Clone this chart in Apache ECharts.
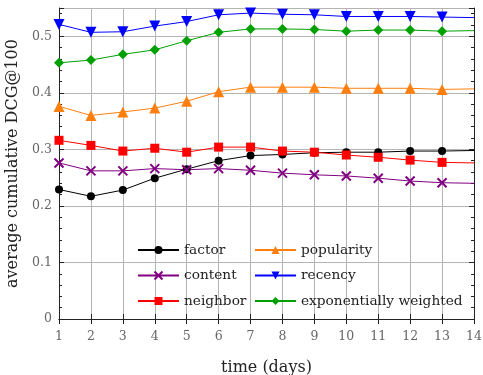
<!DOCTYPE html>
<html><head><meta charset="utf-8">
<script src="https://cdn.jsdelivr.net/npm/echarts@6/dist/echarts.min.js"></script>
<style>html,body{margin:0;padding:0;background:#fff}#c{width:483px;height:375px}</style>
</head><body><div id="c"></div>
<script>
const days = [1,2,3,4,5,6,7,8,9,10,11,12,13,14];
const factor = [0.229,0.217,0.228,0.249,0.265,0.280,0.289,0.291,0.294,0.295,0.295,0.297,0.297,0.298];
const content = [0.276,0.262,0.262,0.266,0.264,0.266,0.263,0.258,0.255,0.253,0.249,0.244,0.241,0.240];
const neighbor = [0.316,0.307,0.297,0.302,0.295,0.304,0.304,0.297,0.295,0.290,0.286,0.281,0.277,0.276];
const popularity = [0.376,0.360,0.366,0.373,0.385,0.402,0.410,0.410,0.410,0.408,0.408,0.408,0.406,0.407];
const recency = [0.521,0.507,0.508,0.518,0.526,0.538,0.541,0.539,0.538,0.535,0.535,0.535,0.534,0.533];
const expWeighted = [0.453,0.458,0.468,0.476,0.492,0.507,0.513,0.513,0.512,0.509,0.511,0.511,0.509,0.510];
const seriesNames = ['factor','content','neighbor','popularity','recency','exponentially weighted'];
const yTitle = 'average cumulative DCG@100';
const xTitle = 'time (days)';

const font = "'DejaVu Serif', serif";
function pts(arr){
  return days.map((d,i)=> i===days.length-1 ? {value:[d,arr[i]], symbol:'none'} : [d,arr[i]]);
}
function mk(name, arr, color, symbol, size, extra){
  return Object.assign({
    name, type:'line', data:pts(arr), symbol, symbolSize:size,
    showAllSymbol:true,
    lineStyle:{color, width:1},
    itemStyle:{color},
    emphasis:{disabled:true},
    animation:false, clip:false
  }, extra||{});
}
const xPath = 'path://M0,0L10,10M10,0L0,10';
const legendText = {fontFamily:font, fontSize:13.7, color:'#222'};
const chart = echarts.init(document.getElementById('c'));
chart.setOption({
  animation:false,
  grid:{left:59,right:9,top:8,bottom:56, outerBoundsMode:'none', containLabel:false},
  legend:[
    {data:['factor','content','neighbor'], orient:'vertical', left:137, top:243, padding:0,
     itemWidth:41, itemHeight:10, itemGap:11.5, textStyle:legendText},
    {data:['popularity','recency','exponentially weighted'], orient:'vertical', left:254, top:243, padding:0,
     itemWidth:41, itemHeight:10, itemGap:11.5, textStyle:legendText}
  ],
  xAxis:[
    {type:'value', min:1, max:14, interval:1, name:xTitle, nameLocation:'middle', nameGap:41,
     nameTextStyle:{fontFamily:font, fontSize:16, color:'#222'},
     axisLine:{lineStyle:{color:'#222', width:1}},
     axisTick:{inside:true, length:5, lineStyle:{color:'#222'}},
     axisLabel:{fontFamily:font, fontSize:12.5, color:'#666', margin:11},
     splitLine:{show:true, lineStyle:{color:'#b4b4b4', width:1}}},
    {type:'value', min:1, max:14, interval:1, position:'top',
     axisLine:{show:true, lineStyle:{color:'#222', width:1}},
     axisTick:{inside:true, length:5, lineStyle:{color:'#222'}},
     axisLabel:{show:false}, splitLine:{show:false}}
  ],
  yAxis:[
    {type:'value', min:0, max:0.55, interval:0.1, name:yTitle, nameLocation:'middle', nameGap:32,
     nameTextStyle:{fontFamily:font, fontSize:16, color:'#222'},
     axisLine:{show:true, lineStyle:{color:'#222', width:1}},
     axisTick:{inside:true, length:5, lineStyle:{color:'#222'}},
     minorTick:{show:true, splitNumber:5, length:3, lineStyle:{color:'#222'}},
     axisLabel:{fontFamily:font, fontSize:12.5, color:'#666', margin:7, showMaxLabel:false,
       formatter:v=> v===0 ? '0' : String(Math.round(v*10)/10)},
     splitLine:{show:true, lineStyle:{color:'#b4b4b4', width:1}}},
    {type:'value', min:0, max:0.55, interval:0.1, position:'right',
     axisLine:{show:true, lineStyle:{color:'#222', width:1}},
     axisTick:{inside:true, length:5, lineStyle:{color:'#222'}},
     minorTick:{show:true, splitNumber:5, length:3, lineStyle:{color:'#222'}},
     axisLabel:{show:false}, splitLine:{show:false}}
  ],
  series:[
    mk(seriesNames[0], factor, '#000000', 'circle', 8),
    mk(seriesNames[1], content, '#800080', xPath, 9, {itemStyle:{color:'#800080', borderColor:'#800080', borderWidth:2}}),
    mk(seriesNames[2], neighbor, '#ff0000', 'rect', 9),
    mk(seriesNames[3], popularity, '#ff7f0e', 'triangle', 11),
    mk(seriesNames[4], recency, '#0000ff', 'triangle', 11, {symbolRotate:180}),
    mk(seriesNames[5], expWeighted, '#00a000', 'diamond', 10)
  ]
});
</script></body></html>
